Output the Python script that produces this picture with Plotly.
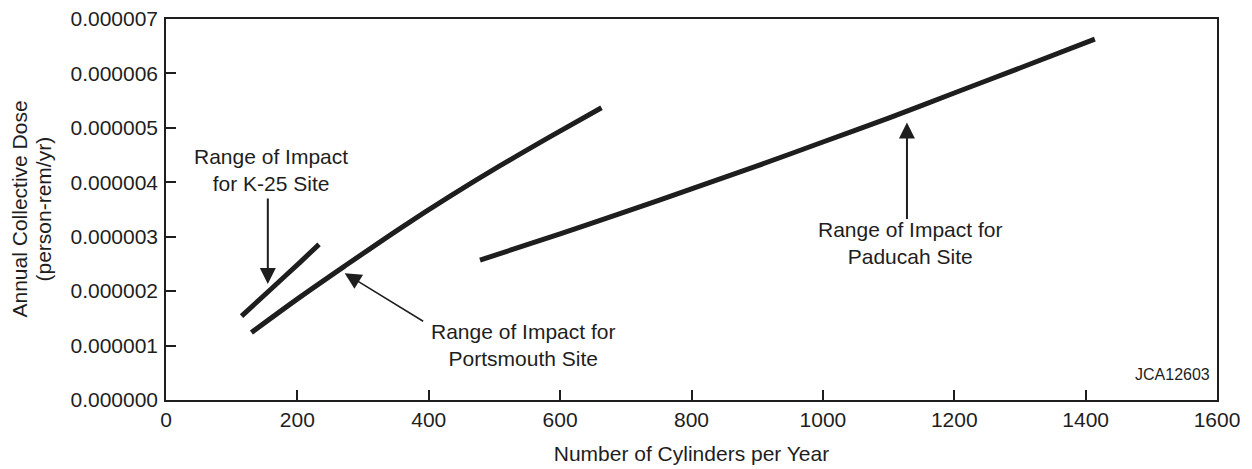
import plotly.graph_objects as go

# ---- data ----
k25_x = [115, 160, 204, 233]
k25_y = [1.54e-6, 2.04e-6, 2.53e-6, 2.86e-6]

ports_x = [130, 204, 272, 356, 432, 508, 585, 663]
ports_y = [1.24e-6, 1.89e-6, 2.46e-6, 3.15e-6, 3.74e-6, 4.30e-6, 4.84e-6, 5.37e-6]

paducah_x = [478, 600, 700, 800, 900, 1000, 1100, 1200, 1300, 1414]
paducah_y = [2.57e-6, 3.05e-6, 3.46e-6, 3.88e-6, 4.30e-6, 4.74e-6, 5.18e-6, 5.64e-6, 6.10e-6, 6.63e-6]

x_ticks = [0, 200, 400, 600, 800, 1000, 1200, 1400, 1600]
y_ticks = [0, 1e-6, 2e-6, 3e-6, 4e-6, 5e-6, 6e-6, 7e-6]

INK = "#1e1e1e"
FONT = "Liberation Sans, Arial, Helvetica, sans-serif"
FS = 21

fig = go.Figure()
for xs, ys in [(k25_x, k25_y), (ports_x, ports_y), (paducah_x, paducah_y)]:
    fig.add_trace(go.Scatter(x=xs, y=ys, mode="lines",
                             line=dict(color=INK, width=5, shape="spline", smoothing=0.8),
                             showlegend=False, hoverinfo="skip"))

def label(x, y, text, size=FS, xanchor="center"):
    fig.add_annotation(x=x, y=y, xref="x", yref="y", text=text, showarrow=False,
                       xanchor=xanchor, yanchor="middle",
                       font=dict(family=FONT, size=size, color=INK))

def arrow(x, y, ax, ay, width, size):
    fig.add_annotation(x=x, y=y, xref="x", yref="y", text="", showarrow=True,
                       ax=ax, ay=ay, arrowhead=2, arrowsize=size, arrowwidth=width,
                       arrowcolor=INK, standoff=0)

# K-25
label(160, 4.22e-6, "Range of Impact<br>for K-25 Site")
arrow(155, 2.13e-6, 0, -87, 2, 1.6)
# Portsmouth
label(543, 1.01e-6, "Range of Impact for<br>Portsmouth Site")
arrow(272, 2.33e-6, 80, 49, 1.5, 2.2)
# Paducah
label(1133, 2.88e-6, "Range of Impact for<br>Paducah Site")
arrow(1128, 5.10e-6, 0, 98, 2, 1.6)
# ID
label(1593, 0.46e-6, "JCA12603", size=16, xanchor="right")

# y-axis title (two lines)
for txt, shift in [("Annual Collective Dose", -147), ("(person-rem/yr)", -123)]:
    fig.add_annotation(x=0, y=0.5, xref="paper", yref="paper", text=txt,
                       showarrow=False, textangle=-90, xanchor="center", yanchor="middle",
                       xshift=shift, font=dict(family=FONT, size=FS, color=INK))

axis_common = dict(showline=True, linecolor=INK, linewidth=1.5, mirror=True,
                   ticks="inside", ticklen=10, tickwidth=1.5, tickcolor=INK,
                   showgrid=False, zeroline=False, automargin=False,
                   tickfont=dict(family=FONT, size=FS, color=INK))

fig.update_xaxes(range=[0, 1600], tickvals=x_ticks, ticklabelstandoff=0,
                 title=dict(text="Number of Cylinders per Year",
                            font=dict(family=FONT, size=FS, color=INK), standoff=16),
                 **axis_common)
fig.update_yaxes(range=[0, 7e-6], tickvals=y_ticks, tickformat=".6f",
                 ticklabelstandoff=2, **axis_common)

fig.update_layout(width=1252, height=469,
                  margin=dict(l=166, r=35, t=19, b=69),
                  plot_bgcolor="white", paper_bgcolor="white",
                  font=dict(family=FONT, size=FS, color=INK))

fig.write_html("out.html", config={"displayModeBar": False},
               post_script="document.body.style.margin='0';document.body.style.overflow='hidden';")
